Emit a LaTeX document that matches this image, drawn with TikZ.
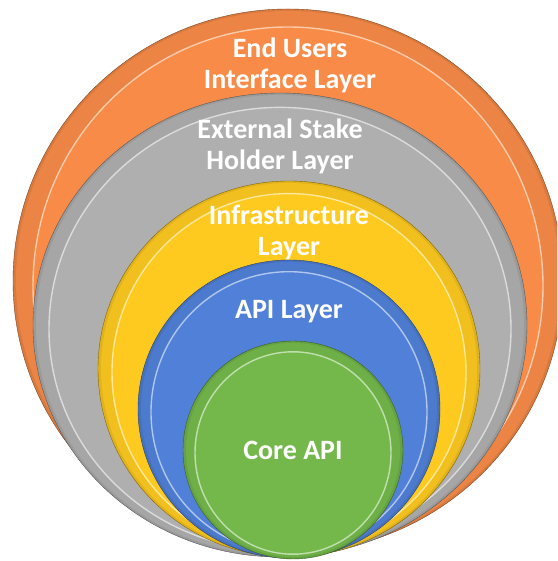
\documentclass[tikz,border=0pt]{standalone}
\usepackage{fontspec}
\setmainfont{Carlito}
\usepackage{tikz}
\usetikzlibrary{calc}
\usepackage{xcolor}

\definecolor{layerorange}{HTML}{F78B47}
\definecolor{layergrey}{HTML}{AFAFAF}
\definecolor{layeryellow}{HTML}{FFCA1F}
\definecolor{layerblue}{HTML}{5080D8}
\definecolor{layergreen}{HTML}{74B84B}

\tikzset{lbl/.style={text=white, align=center, font=\bfseries\fontsize{28}{31}\selectfont}}

% colour, centre x, centre y, x radius, y radius, bevel width
\newcommand{\bevelring}[6]{%
\filldraw[fill=#1!88!black, draw=#1!50!black, line width=0.4pt] (#2,#3) ellipse ({(#4)*1pt} and {(#5)*1pt});
\fill[#1!95!black] (#2,#3) ellipse ({(#4-3)*1pt} and {(#5-2)*1pt});
\filldraw[fill=#1, draw=#1!45!white, line width=1.4pt] ($(#2,#3)+(0,-0.25*#6)$) ellipse ({(#4-#6)*1pt} and {(#5-0.65*#6)*1pt});
}

\begin{document}
\begin{tikzpicture}[x=1pt, y=1pt]
\useasboundingbox (0,0) rectangle (557,561);
\clip (0,0) rectangle (557,561);
\bevelring{layerorange}{288}{280}{275}{272}{20}
\node[lbl] (enduser) at (290,496) {End Users\\Interface Layer};
\bevelring{layergrey}{280}{236}{247}{232}{16}
\node[lbl] (stake) at (280,415) {External Stake\\Holder Layer};
\bevelring{layeryellow}{289}{192}{191}{188}{14}
\node[lbl] (infra) at (289,329) {Infrastructure\\Layer};
\bevelring{layerblue}{289}{152}{151}{149}{13}
\node[lbl] (api) at (289,249) {API Layer};
\bevelring{layergreen}{293}{111}{110}{109}{12}
\node[lbl] (core) at (293,111) {Core API};
\end{tikzpicture}
\end{document}
